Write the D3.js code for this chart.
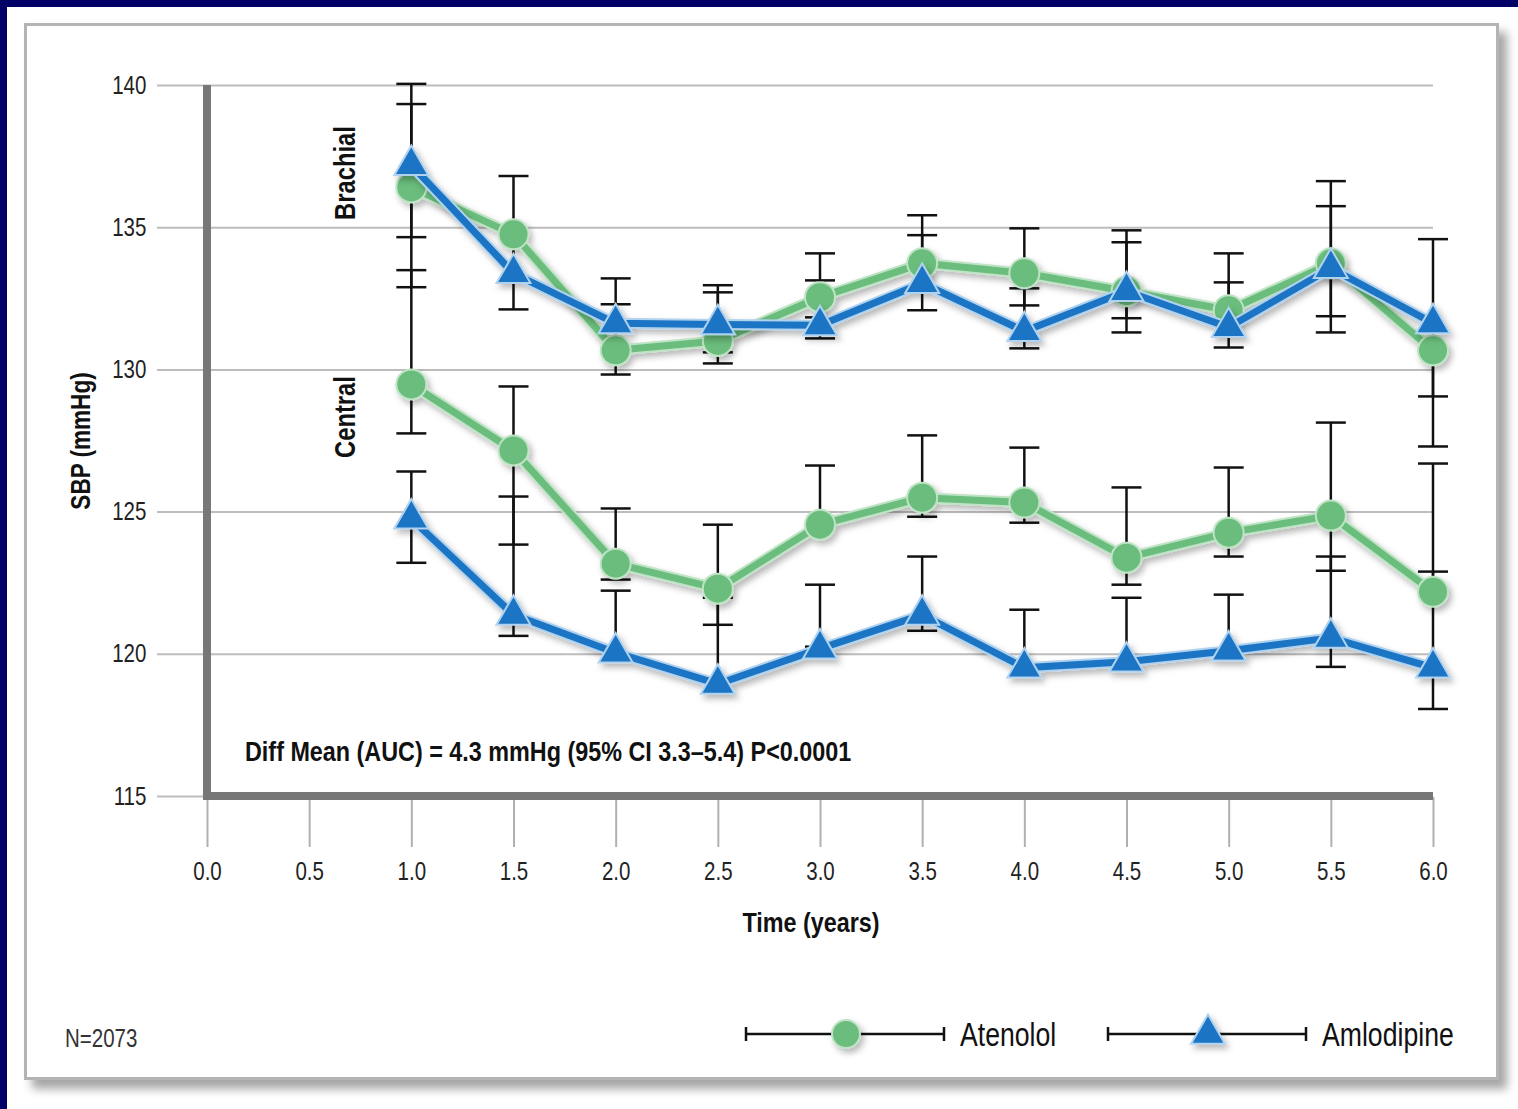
<!DOCTYPE html>
<html>
<head>
<meta charset="utf-8">
<script src="https://cdn.jsdelivr.net/npm/d3@7"></script>
<style>
  html, body { margin: 0; padding: 0; background: #000066; }
  svg { display: block; }
  text { font-family: "Liberation Sans", Arial, sans-serif; }
</style>
</head>
<body>
<svg id="chart" width="1518" height="1109"></svg>
<script>
// Follow-up times (years)
const years = [1, 1.5, 2, 2.5, 3, 3.5, 4, 4.5, 5, 5.5, 6];
const xTicks = [0, 0.5, 1, 1.5, 2, 2.5, 3, 3.5, 4, 4.5, 5, 5.5, 6];
const yTicks = [115, 120, 125, 130, 135, 140];

// Brachial SBP (mmHg) with upper / lower whisker ends (null = no whisker)
const brachialAtenolol   = [136.4, 134.75, 130.67, 131.0, 132.54, 133.73, 133.38, 132.75, 132.08, 133.73, 130.67];
const brachialAtenololHi = [140.04, 136.80, 132.29, 132.71, 134.08, 135.42, 134.96, 134.89, 134.08, 136.62, null];
const brachialAtenololLo = [132.89, null, 129.82, 130.21, 131.83, null, 132.25, 131.30, null, 131.30, 127.29];

const brachialAmlodipine   = [137.18, 133.38, 131.62, 131.58, 131.55, 133.03, 131.34, 132.75, 131.48, 133.56, 131.62];
const brachialAmlodipineHi = [139.33, 134.75, 133.20, 132.96, 133.13, 134.72, 132.85, 134.47, 133.06, 135.74, 134.58];
const brachialAmlodipineLo = [134.65, 132.11, null, 130.60, 131.09, 132.08, 130.74, 131.80, 130.77, 131.87, 129.05];

// Central SBP (mmHg)
const centralAtenolol   = [129.47, 127.15, 123.17, 122.29, 124.54, 125.49, 125.32, 123.38, 124.26, 124.86, 122.18];
const centralAtenololHi = [133.49, 129.40, 125.11, 124.54, 126.62, 127.68, 127.25, 125.85, 126.55, 128.13, 126.69];
const centralAtenololLo = [127.75, 123.84, 122.61, 121.02, null, 124.82, 124.61, 122.43, 123.42, 122.92, null];

const centralAmlodipine   = [124.75, 121.37, 120.04, 118.94, 120.18, 121.37, 119.51, 119.72, 120.11, 120.56, 119.51];
const centralAmlodipineHi = [126.41, 125.53, 122.22, 121.97, 122.43, 123.42, 121.55, 121.97, 122.08, 123.42, 122.89];
const centralAmlodipineLo = [123.20, 120.63, null, null, 120.25, 120.81, null, null, null, 119.54, 118.06];

const GREEN = "#6abd7c", GREEN_EDGE = "#bfe3c5";
const BLUE = "#1b75c4", BLUE_EDGE = "#b0d2ee";
const NARROW = "scale(0.82,1)";

const svg = d3.select("#chart");

// filters: panel shadow and soft marker shadow
const defs = svg.append("defs");
const ps = defs.append("filter").attr("id", "panelShadow").attr("x", "-5%").attr("y", "-5%").attr("width", "115%").attr("height", "115%");
ps.append("feDropShadow").attr("dx", 8).attr("dy", 9).attr("stdDeviation", 5).attr("flood-color", "#000").attr("flood-opacity", 0.35);
const ms = defs.append("filter").attr("id", "markShadow").attr("x", "-30%").attr("y", "-30%").attr("width", "170%").attr("height", "170%");
ms.append("feDropShadow").attr("dx", 3).attr("dy", 4).attr("stdDeviation", 3).attr("flood-color", "#000").attr("flood-opacity", 0.28);

// page background
svg.append("rect").attr("x", 7).attr("y", 7).attr("width", 1511).attr("height", 1102).attr("fill", "#ffffff");

// panel
svg.append("rect")
  .attr("x", 25.5).attr("y", 24.5).attr("width", 1472).attr("height", 1054)
  .attr("fill", "#ffffff").attr("stroke", "#b4b4b4").attr("stroke-width", 3)
  .attr("filter", "url(#panelShadow)");

const x = d3.scaleLinear().domain([0, 6]).range([207, 1433]);
const y = d3.scaleLinear().domain([115, 140]).range([796, 85]);

// condensed text helper
function label(px, py, rot, size, weight, str, anchor, fill) {
  return svg.append("text")
    .attr("transform", `translate(${px},${py}) rotate(${rot}) ${NARROW}`)
    .attr("text-anchor", anchor || "start")
    .attr("font-size", size).attr("font-weight", weight)
    .attr("fill", fill || "#111").text(str);
}

// horizontal gridlines with left ticks
const yAxis = d3.axisLeft(y).tickValues(yTicks).tickSize(-(1433 - 157)).tickPadding(0).tickFormat(d3.format("d"));
const gy = svg.append("g").attr("transform", "translate(157,0)").call(yAxis);
gy.select(".domain").remove();
gy.selectAll(".tick line").attr("stroke", "#bdbdbd").attr("stroke-width", 2);
gy.selectAll(".tick text").attr("font-size", 25).attr("fill", "#222").attr("x", -13)
  .attr("text-anchor", "end").attr("transform", NARROW);

// x ticks below the axis
const xAxis = d3.axisBottom(x).tickValues(xTicks).tickSize(50).tickPadding(15).tickFormat(d3.format(".1f"));
const gx = svg.append("g").attr("transform", "translate(0,797)").call(xAxis);
gx.select(".domain").remove();
gx.selectAll(".tick line").attr("stroke", "#b0b0b0").attr("stroke-width", 2);
gx.selectAll(".tick text").attr("font-size", 25).attr("fill", "#222").attr("transform", NARROW);

// thick L-shaped axis
svg.append("path")
  .attr("d", `M${x(0)},${y(140)} V${y(115)} H${x(6)}`)
  .attr("fill", "none").attr("stroke", "#777").attr("stroke-width", 8).attr("stroke-linejoin", "miter");

// error bars
const capW = 15;
function whiskers(vals, his, los) {
  const g = svg.append("g").attr("stroke", "#111").attr("stroke-width", 2.5);
  years.forEach((t, i) => {
    const cx = x(t);
    [his[i], los[i]].forEach(end => {
      if (end === null) return;
      g.append("line").attr("x1", cx).attr("x2", cx).attr("y1", y(vals[i])).attr("y2", y(end));
      g.append("line").attr("x1", cx - capW).attr("x2", cx + capW).attr("y1", y(end)).attr("y2", y(end));
    });
  });
}
whiskers(brachialAtenolol, brachialAtenololHi, brachialAtenololLo);
whiskers(brachialAmlodipine, brachialAmlodipineHi, brachialAmlodipineLo);
whiskers(centralAtenolol, centralAtenololHi, centralAtenololLo);
whiskers(centralAmlodipine, centralAmlodipineHi, centralAmlodipineLo);

const line = d3.line().x((d, i) => x(years[i])).y(d => y(d));
const triPath = d3.symbol().type(d3.symbolTriangle).size(500);

function series(vals, color, edge, shape) {
  const g = svg.append("g").attr("filter", "url(#markShadow)");
  g.append("path").attr("d", line(vals)).attr("fill", "none")
    .attr("stroke", edge).attr("stroke-width", 11).attr("stroke-linejoin", "round");
  g.append("path").attr("d", line(vals)).attr("fill", "none")
    .attr("stroke", color).attr("stroke-width", 7).attr("stroke-linejoin", "round");
  if (shape === "circle") {
    g.selectAll("circle.m").data(vals).join("circle").attr("class", "m")
      .attr("cx", (d, i) => x(years[i])).attr("cy", d => y(d)).attr("r", 15)
      .attr("fill", color).attr("stroke", edge).attr("stroke-width", 2);
  } else {
    g.selectAll("path.m").data(vals).join("path").attr("class", "m")
      .attr("d", triPath).attr("transform", (d, i) => `translate(${x(years[i])},${y(d)})`)
      .attr("fill", color).attr("stroke", edge).attr("stroke-width", 2);
  }
}
series(brachialAtenolol, GREEN, GREEN_EDGE, "circle");
series(centralAtenolol, GREEN, GREEN_EDGE, "circle");
series(brachialAmlodipine, BLUE, BLUE_EDGE, "triangle");
series(centralAmlodipine, BLUE, BLUE_EDGE, "triangle");

// titles and annotations
label(90, 441, -90, 27.5, "bold", "SBP (mmHg)", "middle");
label(355, 173, -90, 29, "bold", "Brachial", "middle");
label(355, 417, -90, 29, "bold", "Central", "middle");
label(811, 932, 0, 28.5, "bold", "Time (years)", "middle");
label(245, 761, 0, 28.5, "bold", "Diff Mean (AUC) = 4.3 mmHg (95% CI 3.3\u20135.4) P<0.0001");
label(65, 1047, 0, 25, "normal", "N=2073", "start", "#333");

// legend
const legend = [
  { name: "Atenolol", color: GREEN, edge: GREEN_EDGE, shape: "circle", x0: 746 },
  { name: "Amlodipine", color: BLUE, edge: BLUE_EDGE, shape: "triangle", x0: 1108 }
];
const ly = 1034;
legend.forEach(l => {
  const g = svg.append("g");
  g.append("line").attr("x1", l.x0).attr("x2", l.x0 + 198).attr("y1", ly).attr("y2", ly).attr("stroke", "#111").attr("stroke-width", 2.5);
  g.append("line").attr("x1", l.x0).attr("x2", l.x0).attr("y1", ly - 7).attr("y2", ly + 7).attr("stroke", "#111").attr("stroke-width", 2.5);
  g.append("line").attr("x1", l.x0 + 198).attr("x2", l.x0 + 198).attr("y1", ly - 7).attr("y2", ly + 7).attr("stroke", "#111").attr("stroke-width", 2.5);
  const mg = g.append("g").attr("filter", "url(#markShadow)");
  if (l.shape === "circle") {
    mg.append("circle").attr("cx", l.x0 + 100).attr("cy", ly).attr("r", 14).attr("fill", l.color).attr("stroke", l.edge).attr("stroke-width", 2);
  } else {
    mg.append("path").attr("d", triPath).attr("transform", `translate(${l.x0 + 100},${ly})`).attr("fill", l.color).attr("stroke", l.edge).attr("stroke-width", 2);
  }
  label(l.x0 + 214, ly + 12, 0, 32.5, "normal", l.name);
});
</script>
</body>
</html>
